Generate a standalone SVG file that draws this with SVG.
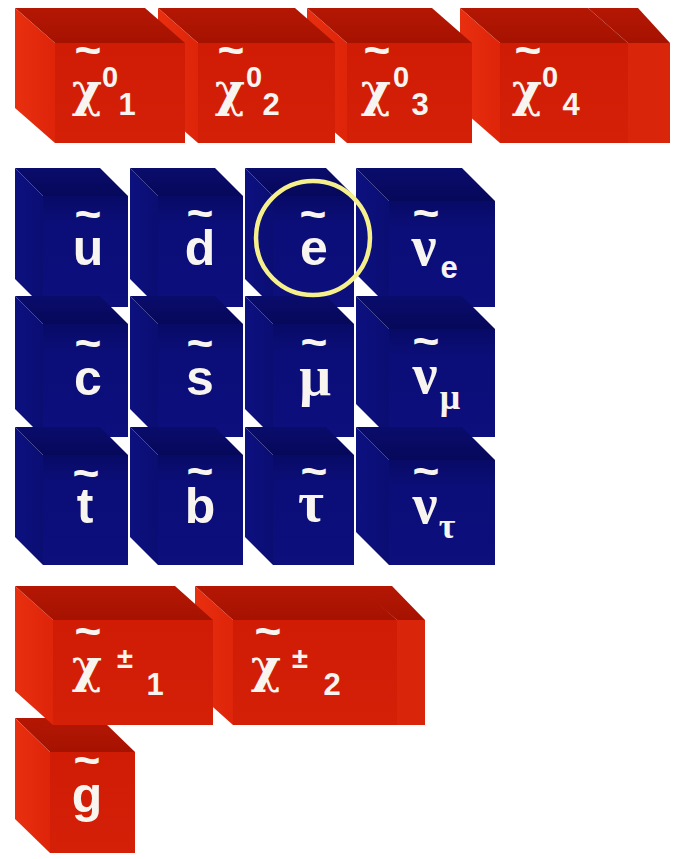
<svg xmlns="http://www.w3.org/2000/svg" width="678" height="859" viewBox="0 0 678 859">
<defs>
<linearGradient id="rTop" x1="0" y1="0" x2="0" y2="1"><stop offset="0" stop-color="#b41704"/><stop offset="1" stop-color="#a61200"/></linearGradient>
<linearGradient id="rLeft" x1="0" y1="0" x2="1" y2="0"><stop offset="0" stop-color="#e83010"/><stop offset="1" stop-color="#de2409"/></linearGradient>
<linearGradient id="rFront" x1="0" y1="0" x2="0" y2="1"><stop offset="0" stop-color="#d01c05"/><stop offset="1" stop-color="#d52008"/></linearGradient>
<linearGradient id="bTop" x1="0" y1="0" x2="0" y2="1"><stop offset="0" stop-color="#0a0c6c"/><stop offset="1" stop-color="#06085a"/></linearGradient>
<linearGradient id="bLeft" x1="0" y1="0" x2="1" y2="0"><stop offset="0" stop-color="#0d1180"/><stop offset="1" stop-color="#0a0d72"/></linearGradient>
<linearGradient id="bFront" x1="0" y1="0" x2="0" y2="1"><stop offset="0" stop-color="#080a66"/><stop offset="0.25" stop-color="#0b0e78"/><stop offset="1" stop-color="#0c0f7c"/></linearGradient>
</defs>
<style>
.rt{fill:url(#rTop)}
.rl{fill:url(#rLeft)}
.rf{fill:url(#rFront)}
.re{fill:#d92509}
.bt{fill:url(#bTop)}
.bl{fill:url(#bLeft)}
.bf{fill:url(#bFront)}
text{fill:#f8f4f0;font-weight:bold;text-anchor:middle}
.lat{font-family:"Liberation Sans",Arial,sans-serif;font-size:50px}
.grk{font-family:"Liberation Serif","DejaVu Serif",serif;font-size:56px}
.chi{font-family:"DejaVu Serif","Liberation Serif",serif;font-size:46px}
.til{font-family:"Liberation Sans",Arial,sans-serif;font-size:46px}
.sup{font-family:"Liberation Sans",Arial,sans-serif;font-size:29px}
.sub{font-family:"Liberation Sans",Arial,sans-serif;font-size:31px}
.gsub{font-family:"Liberation Serif","DejaVu Serif",serif;font-size:36px}
</style>
<rect width="678" height="859" fill="#ffffff"/>

<!-- Neutralino row -->
<g id="neutralino-end">
<polygon class="rt" points="588,8 638,8 670,43 628,43"/>
<rect class="re" x="628" y="43" width="42" height="100"/>
</g>
<g id="neutralino4">
<polygon class="rt" points="460,8 588,8 628,43 500,43"/>
<polygon class="rl" points="460,8 500,43 500,143 460,108"/>
<rect class="rf" x="500" y="43" width="128" height="100"/>
<text class="til" x="528" y="66">~</text>
<text class="chi" x="527" y="106">χ</text>
<text class="sup" x="550" y="87">0</text>
<text class="sub" x="571" y="115">4</text>
</g>
<g id="neutralino3">
<polygon class="rt" points="307,8 432,8 472,43 347,43"/>
<polygon class="rl" points="307,8 347,43 347,143 307,108"/>
<rect class="rf" x="347" y="43" width="125" height="100"/>
<text class="til" x="377" y="66">~</text>
<text class="chi" x="376" y="106">χ</text>
<text class="sup" x="401" y="87">0</text>
<text class="sub" x="420" y="115">3</text>
</g>
<g id="neutralino2">
<polygon class="rt" points="158,8 295,8 335,43 198,43"/>
<polygon class="rl" points="158,8 198,43 198,143 158,108"/>
<rect class="rf" x="198" y="43" width="137" height="100"/>
<text class="til" x="231" y="66">~</text>
<text class="chi" x="230" y="106">χ</text>
<text class="sup" x="254" y="87">0</text>
<text class="sub" x="271" y="115">2</text>
</g>
<g id="neutralino1">
<polygon class="rt" points="15,8 145,8 185,43 55,43"/>
<polygon class="rl" points="15,8 55,43 55,143 15,108"/>
<rect class="rf" x="55" y="43" width="130" height="100"/>
<text class="til" x="88" y="66">~</text>
<text class="chi" x="87" y="106">χ</text>
<text class="sup" x="110" y="87">0</text>
<text class="sub" x="127" y="115">1</text>
</g>

<!-- Sfermion grid, row 1 -->
<g id="sup-u">
<polygon class="bt" points="15,168 100,168 128,196 43,196"/>
<polygon class="bl" points="15,168 43,196 43,307 15,279"/>
<rect class="bf" x="43" y="196" width="85" height="111"/>
<text class="til" x="88" y="230">~</text>
<text class="lat" x="88" y="265">u</text>
</g>
<g id="sdown-d">
<polygon class="bt" points="130,168 215,168 243,196 158,196"/>
<polygon class="bl" points="130,168 158,196 158,307 130,279"/>
<rect class="bf" x="158" y="196" width="85" height="111"/>
<text class="til" x="200" y="229">~</text>
<text class="lat" x="200" y="265">d</text>
</g>
<g id="selectron-e">
<polygon class="bt" points="245,168 326,168 354,196 273,196"/>
<polygon class="bl" points="245,168 273,196 273,307 245,279"/>
<rect class="bf" x="273" y="196" width="81" height="111"/>
<text class="til" x="313" y="230">~</text>
<text class="lat" x="314" y="265">e</text>
</g>
<g id="sneutrino-e">
<polygon class="bt" points="356,168 462,168 495,201 389,201"/>
<polygon class="bl" points="356,168 389,201 389,307 356,274"/>
<rect class="bf" x="389" y="201" width="106" height="106"/>
<text class="til" x="426" y="229">~</text>
<text class="grk" x="424" y="265">ν</text>
<text class="sub" x="449" y="278">e</text>
</g>

<!-- row 2 -->
<g id="scharm-c">
<polygon class="bt" points="15,296 100,296 128,324 43,324"/>
<polygon class="bl" points="15,296 43,324 43,437 15,409"/>
<rect class="bf" x="43" y="324" width="85" height="113"/>
<text class="til" x="88" y="359">~</text>
<text class="lat" x="88" y="395">c</text>
</g>
<g id="sstrange-s">
<polygon class="bt" points="130,296 215,296 243,324 158,324"/>
<polygon class="bl" points="130,296 158,324 158,437 130,409"/>
<rect class="bf" x="158" y="324" width="85" height="113"/>
<text class="til" x="200" y="359">~</text>
<text class="lat" x="200" y="395">s</text>
</g>
<g id="smuon-mu">
<polygon class="bt" points="245,296 326,296 354,324 273,324"/>
<polygon class="bl" points="245,296 273,324 273,437 245,409"/>
<rect class="bf" x="273" y="324" width="81" height="113"/>
<text class="til" x="314" y="358">~</text>
<text class="grk" x="315" y="395">μ</text>
</g>
<g id="sneutrino-mu">
<polygon class="bt" points="356,296 462,296 495,329 389,329"/>
<polygon class="bl" points="356,296 389,329 389,437 356,404"/>
<rect class="bf" x="389" y="329" width="106" height="108"/>
<text class="til" x="426" y="357">~</text>
<text class="grk" x="425" y="393">ν</text>
<text class="gsub" x="450" y="409">μ</text>
</g>

<!-- row 3 -->
<g id="stop-t">
<polygon class="bt" points="15,427 100,427 128,455 43,455"/>
<polygon class="bl" points="15,427 43,455 43,565 15,537"/>
<rect class="bf" x="43" y="455" width="85" height="110"/>
<text class="til" x="86" y="489">~</text>
<text class="lat" x="85" y="523">t</text>
</g>
<g id="sbottom-b">
<polygon class="bt" points="130,427 215,427 243,455 158,455"/>
<polygon class="bl" points="130,427 158,455 158,565 130,537"/>
<rect class="bf" x="158" y="455" width="85" height="110"/>
<text class="til" x="200" y="487">~</text>
<text class="lat" x="200" y="523">b</text>
</g>
<g id="stau-tau">
<polygon class="bt" points="245,427 326,427 354,455 273,455"/>
<polygon class="bl" points="245,427 273,455 273,565 245,537"/>
<rect class="bf" x="273" y="455" width="81" height="110"/>
<text class="til" x="314" y="487">~</text>
<text class="grk" x="311" y="521">τ</text>
</g>
<g id="sneutrino-tau">
<polygon class="bt" points="356,427 462,427 495,460 389,460"/>
<polygon class="bl" points="356,427 389,460 389,565 356,532"/>
<rect class="bf" x="389" y="460" width="106" height="105"/>
<text class="til" x="426" y="487">~</text>
<text class="grk" x="425" y="523">ν</text>
<text class="gsub" x="447" y="538">τ</text>
</g>

<circle id="highlight" cx="313" cy="238" r="57" fill="none" stroke="#f5f08c" stroke-width="4.5"/>

<!-- Gluino -->
<g id="gluino">
<polygon class="rt" points="15,718 100,718 135,752 50,752"/>
<polygon class="rl" points="15,718 50,752 50,853 15,819"/>
<rect class="rf" x="50" y="752" width="85" height="101"/>
<text class="til" x="87" y="776">~</text>
<text class="lat" x="87" y="812">g</text>
</g>

<!-- Chargino row -->
<g id="chargino-end">
<polygon class="rt" points="357,586 392,586 425,620 397,620"/>
<rect class="re" x="397" y="620" width="28" height="105"/>
</g>
<g id="chargino2">
<polygon class="rt" points="195,586 359,586 397,620 233,620"/>
<polygon class="rl" points="195,586 233,620 233,725 195,691"/>
<rect class="rf" x="233" y="620" width="164" height="105"/>
<text class="til" x="268" y="647">~</text>
<text class="chi" x="266" y="682">χ</text>
<text class="sup" x="300" y="668">±</text>
<text class="sub" x="332" y="695">2</text>
</g>
<g id="chargino1">
<polygon class="rt" points="15,586 175,586 213,620 53,620"/>
<polygon class="rl" points="15,586 53,620 53,725 15,691"/>
<rect class="rf" x="53" y="620" width="160" height="105"/>
<text class="til" x="88" y="647">~</text>
<text class="chi" x="87" y="682">χ</text>
<text class="sup" x="125" y="668">±</text>
<text class="sub" x="155" y="695">1</text>
</g>
</svg>
